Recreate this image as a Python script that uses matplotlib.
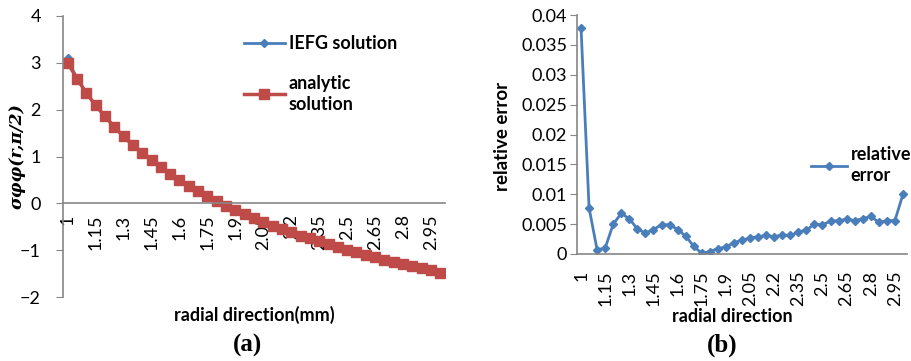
import matplotlib
matplotlib.use("Agg")
import matplotlib.pyplot as plt

plt.rcParams['font.family'] = ['Lato', 'DejaVu Sans']

# radial positions (category axis, Excel style)
radius = ["%g" % (1 + 0.05 * i) for i in range(41)]
tick_labels = ["1", "1.15", "1.3", "1.45", "1.6", "1.75", "1.9", "2.05",
               "2.2", "2.35", "2.5", "2.65", "2.8", "2.95"]

analytic = [3.00, 2.66, 2.36, 2.09, 1.86, 1.63, 1.43, 1.24, 1.08, 0.92,
            0.77, 0.63, 0.50, 0.38, 0.26, 0.16, 0.06, -0.05, -0.14, -0.23,
            -0.31, -0.40, -0.48, -0.55, -0.62, -0.69, -0.75, -0.81, -0.87,
            -0.93, -0.99, -1.04, -1.10, -1.15, -1.20, -1.25, -1.30, -1.34,
            -1.39, -1.43, -1.48]
iefg = [3.10] + analytic[1:]

rel_error = [0.0379, 0.0077, 0.0007, 0.0010, 0.0050, 0.0068, 0.0059, 0.0042,
             0.0035, 0.0041, 0.0049, 0.0049, 0.0041, 0.0030, 0.0013, 0.0001,
             0.0004, 0.0009, 0.0012, 0.0019, 0.0023, 0.0027, 0.0029, 0.0031,
             0.0029, 0.0032, 0.0031, 0.0037, 0.0040, 0.0050, 0.0049, 0.0055,
             0.0056, 0.0058, 0.0056, 0.0059, 0.0063, 0.0053, 0.0056, 0.0056,
             0.0100]

blue = '#4a7ebb'
red = '#be4b48'
grey = '#868686'

W, H = 911, 361
fig = plt.figure(figsize=(W / 100, H / 100), dpi=100)
ax1 = fig.add_axes([63 / W, 1 - 297 / H, (445 - 63) / W, (297 - 16) / H])
ax2 = fig.add_axes([577 / W, 1 - 254 / H, (907 - 577) / W, (254 - 15) / H])

xs = list(range(len(radius)))
tick_pos = list(range(0, 41, 3))


def style(ax):
    for s in ['top', 'right']:
        ax.spines[s].set_visible(False)
    for s in ['left', 'bottom']:
        ax.spines[s].set_color(grey)
        ax.spines[s].set_linewidth(1.2)
    ax.tick_params(axis='y', direction='out', length=5, color=grey,
                   labelsize=13)
    ax.tick_params(axis='x', length=0, labelsize=13, labelrotation=90)
    ax.set_xlim(-0.5, 40.5)
    ax.set_xticks(tick_pos)
    ax.set_xticklabels(tick_labels)


# (a)
ax1.plot(xs, iefg, color=blue, lw=2, marker='D', ms=4,
         label='IEFG solution')
ax1.plot(xs, analytic, color=red, lw=2.5, marker='s', ms=6.5,
         label='analytic\nsolution')
style(ax1)
ax1.set_ylim(-2, 4)
ax1.set_yticks([-2, -1, 0, 1, 2, 3, 4])
ax1.spines['bottom'].set_position(('data', 0))
ax1.tick_params(axis='x', pad=8)
ax1.tick_params(axis='y', pad=11)
ax1.set_xlabel('radial direction(mm)', fontsize=13, fontweight='bold',
               labelpad=0)
ax1.xaxis.set_label_coords(0.5, -0.032)
ax1.set_ylabel(r'σφφ(r,π/2)', family='DejaVu Serif', fontsize=12.5,
               fontweight='bold', style='italic')
ax1.yaxis.set_label_coords(-0.098, 0.5)
leg1 = ax1.legend(loc='upper left', bbox_to_anchor=(0.43, 0.99),
                  frameon=False, prop={'weight': 'bold', 'size': 13},
                  handlelength=2.3, handletextpad=0.2, labelspacing=1.25)
for t in leg1.get_texts():
    t.set_linespacing(1.3)

# (b)
ax2.plot(xs, rel_error, color=blue, lw=2, marker='D', ms=4,
         label='relative\nerror')
style(ax2)
ax2.set_ylim(0, 0.04)
ax2.set_yticks([0, 0.005, 0.01, 0.015, 0.02, 0.025, 0.03, 0.035, 0.04])
ax2.set_yticklabels(['0', '0.005', '0.01', '0.015', '0.02', '0.025',
                     '0.03', '0.035', '0.04'])
ax2.tick_params(axis='x', pad=12)
ax2.tick_params(axis='y', pad=2)
ax2.set_xlabel('radial direction', fontsize=13, fontweight='bold')
ax2.xaxis.set_label_coords(0.47, -0.225)
ax2.set_ylabel('relative error', fontsize=13.5, fontweight='bold')
ax2.yaxis.set_label_coords(-0.20, 0.49)
leg2 = ax2.legend(loc='upper left', bbox_to_anchor=(0.66, 0.52),
                  frameon=False, prop={'weight': 'bold', 'size': 13},
                  handlelength=2.0, handletextpad=0.2)
for t in leg2.get_texts():
    t.set_linespacing(1.3)

fig.text(247 / W, 1 - 345 / H, '(a)', family='Liberation Serif',
         fontweight='bold', fontsize=18, ha='center', va='center')
fig.text(722 / W, 1 - 345 / H, '(b)', family='Liberation Serif',
         fontweight='bold', fontsize=18, ha='center', va='center')

fig.savefig('out.png', dpi=100)
